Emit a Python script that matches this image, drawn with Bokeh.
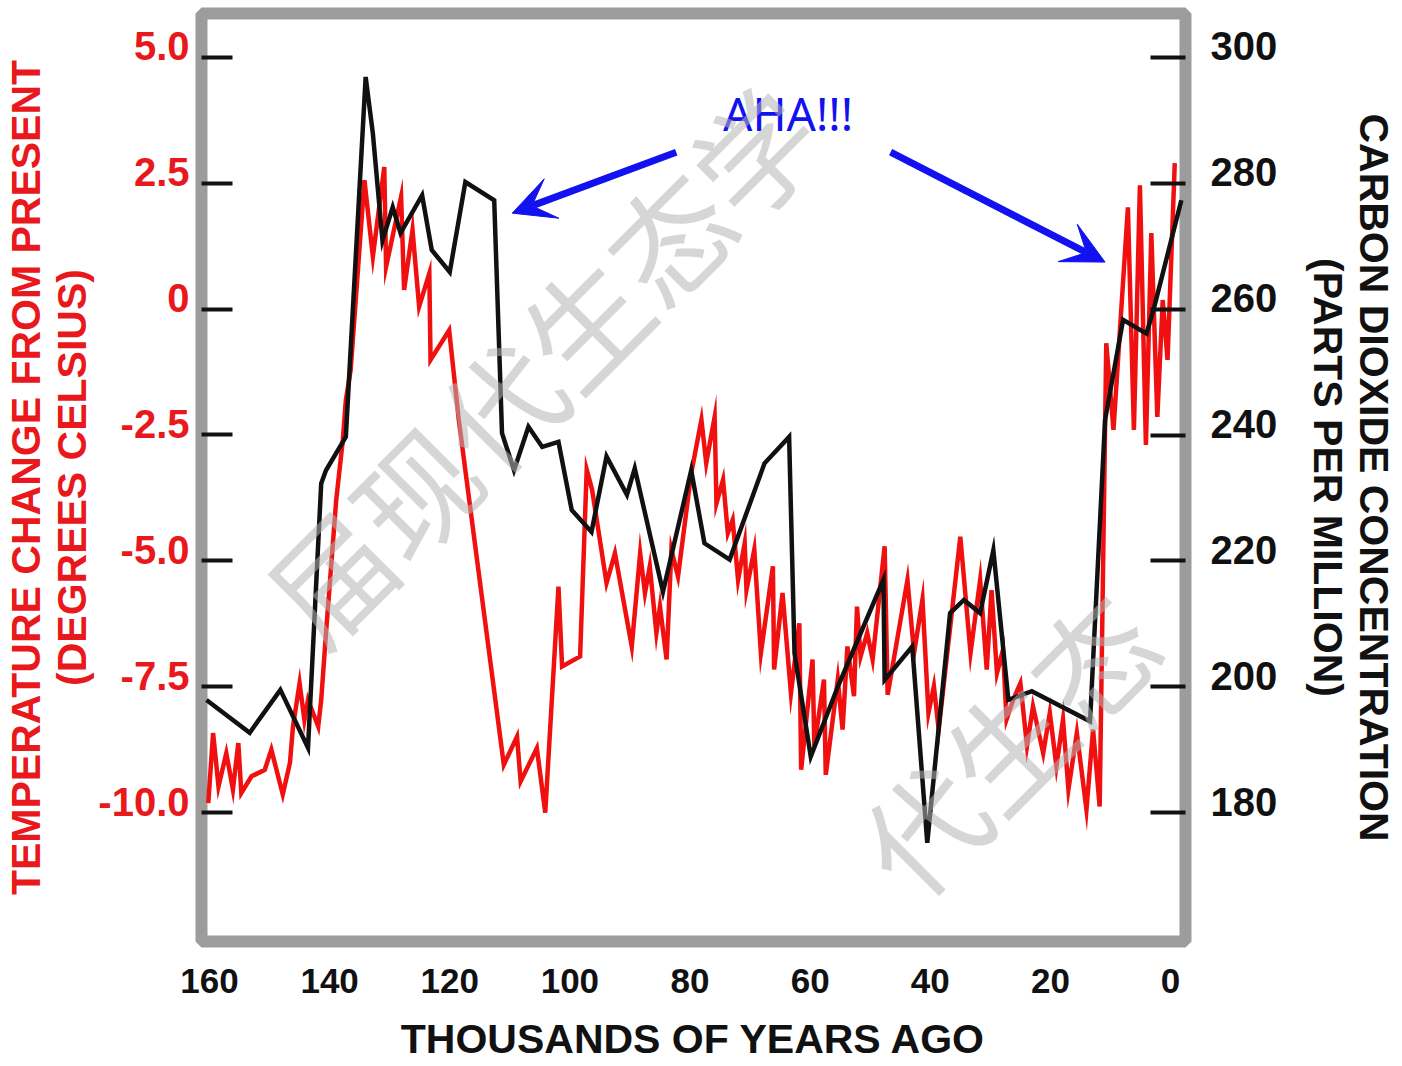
import numpy as np
from bokeh.plotting import figure
from bokeh.models import (Range1d, LinearAxis, FixedTicker, Arrow, VeeHead, Label,
                          CustomJSTickFormatter)
from bokeh.embed import file_html
from bokeh.resources import INLINE

# ---------------- data ----------------
# Temperature change from present (deg C) vs thousands of years ago
temp_kyr = [160.2, 159.4, 158.5, 157.2, 156.1, 155.2, 154.7, 153.0, 150.8, 149.7,
            147.8, 146.6, 146.1, 145.0, 144.2, 143.6, 141.9, 141.4, 140.6, 138.9,
            137.8, 137.3, 136.5, 134.2, 132.8, 130.9, 130.6, 128.1, 127.6, 126.2,
            125.1, 123.4, 123.2, 120.1, 118.5, 111.0, 108.8, 108.2, 105.5, 104.1,
            101.9, 101.3, 98.3, 97.2, 96.3, 93.9, 92.5, 89.7, 88.3, 87.5,
            86.7, 85.6, 85.0, 83.9, 83.1, 82.0, 79.8, 78.1, 77.3, 75.9,
            75.6, 74.5, 73.7, 72.9, 72.0, 70.9, 70.6, 69.3, 68.2, 66.2,
            66.0, 64.6, 63.2, 61.8, 61.5, 59.6, 59.3, 57.7, 57.4, 55.4,
            54.6, 53.8, 52.7, 52.2, 51.6, 50.5, 49.6, 47.6, 47.1, 43.8,
            42.7, 41.3, 40.3, 39.4, 38.6, 35.0, 33.3, 31.7, 30.6, 29.8,
            28.9, 27.9, 27.3, 26.2, 25.0, 23.9, 22.9, 21.2, 20.1, 19.0,
            17.9, 17.0, 15.6, 14.0, 12.9, 11.8, 10.7, 9.5, 7.1, 6.1,
            5.1, 4.1, 3.2, 2.2, 1.3, 0.5, -0.7]
temp_c = [-9.81, -8.42, -9.48, -8.82, -9.54, -8.62, -9.61, -9.28, -9.15, -8.75,
          -9.64, -9.01, -8.29, -7.43, -8.16, -7.76, -8.29, -7.76, -6.43, -3.79,
          -2.60, -1.81, -1.21, 2.56, 1.04, 2.82, 0.84, 2.23, 0.38, 1.57,
          0.05, 0.71, -1.01, -0.42, -2.20, -9.05, -8.49, -9.38, -8.72, -10.0,
          -5.51, -7.10, -6.90, -3.19, -3.59, -5.44, -4.85, -6.70, -4.85, -5.64,
          -5.11, -6.43, -5.91, -6.96, -4.78, -5.31, -3.26, -2.20, -3.06, -2.14,
          -3.86, -3.39, -4.45, -4.19, -5.38, -4.65, -5.58, -4.78, -6.83, -5.11,
          -7.16, -5.64, -7.63, -6.24, -9.15, -6.96, -8.68, -7.36, -9.25, -7.36,
          -8.35, -6.70, -7.69, -5.91, -6.90, -6.43, -6.96, -4.71, -7.66, -5.38,
          -6.83, -5.77, -8.02, -7.49, -8.35, -4.52, -6.83, -5.38, -7.16, -5.58,
          -7.23, -6.77, -8.15, -7.76, -7.43, -8.68, -7.89, -8.82, -8.02, -9.08,
          -8.15, -9.54, -8.42, -9.94, -8.35, -9.88, -0.68, -2.40, 2.02, -2.40,
          2.46, -2.70, 1.51, -2.14, 0.18, -1.01, 2.90]

# Carbon dioxide concentration (ppm) vs thousands of years ago
co2_kyr = [160.5, 153.3, 148.2, 143.6, 141.4, 140.6, 137.3, 134.0, 132.8, 131.2,
           129.5, 128.2, 124.6, 123.0, 120.0, 117.4, 112.6, 111.3, 109.3, 106.9,
           104.6, 101.9, 99.7, 96.4, 93.9, 90.5, 89.2, 84.5, 79.8, 77.6,
           73.4, 67.6, 63.5, 62.6, 59.9, 55.4, 47.8, 47.6, 43.0, 40.5,
           36.7, 34.4, 31.7, 29.5, 27.0, 23.1, 13.4, 10.9, 7.9, 4.0,
           2.7, -1.8]
co2_ppm = [197.9, 192.7, 199.5, 190.3, 232.3, 234.4, 239.7, 296.9, 287.9, 270.9,
           276.2, 272.1, 278.1, 269.4, 265.9, 280.2, 277.3, 240.3, 234.4, 241.3,
           238.1, 238.9, 228.1, 224.6, 236.6, 230.5, 234.7, 215.1, 234.4, 222.8,
           220.2, 235.5, 239.7, 205.3, 188.9, 200.0, 217.0, 201.1, 206.4, 175.2,
           211.7, 213.8, 211.7, 221.7, 197.9, 199.3, 194.5, 242.4, 258.3, 256.1,
           260.4, 277.3]

x_ticks = [160, 140, 120, 100, 80, 60, 40, 20, 0]
temp_ticks = [5, 2.5, 0, -2.5, -5, -7.5, -10]
temp_tick_labels = ["5.0", "2.5", "0", "-2.5", "-5.0", "-7.5", "-10.0"]
co2_ticks = [300, 280, 260, 240, 220, 200, 180]

x_title = "THOUSANDS OF YEARS AGO"
temp_title = "TEMPERATURE CHANGE FROM PRESENT\n(DEGREES CELSIUS)"
co2_title = "CARBON DIOXIDE CONCENTRATION\n(PARTS PER MILLION)"
note_text = "AHA!!!"
watermark_texts = ["届现代生态学", "代生态"]

# ---------------- styles ----------------
RED = "#e8181c"
LINE_RED = "#f01010"
BLUE = "#1212f0"
INK = "#111111"
FONT = "Liberation Sans"

T_RANGE = (-12.56, 5.87)
C_RANGE = (159.52, 306.98)
LABEL_LIFT_T = 0.22          # tick labels sit just above their tick marks
LABEL_LIFT_C = LABEL_LIFT_T * 8

p = figure(width=1400, height=1064,
           x_range=Range1d(161.33, -2.49), y_range=Range1d(*T_RANGE),
           output_backend="svg", toolbar_location=None,
           min_border_left=199, min_border_right=215,
           min_border_top=13, min_border_bottom=122)
p.extra_y_ranges = {
    "co2": Range1d(*C_RANGE),
    "temp_lbl": Range1d(T_RANGE[0] - LABEL_LIFT_T, T_RANGE[1] - LABEL_LIFT_T),
    "co2_lbl": Range1d(C_RANGE[0] - LABEL_LIFT_C, C_RANGE[1] - LABEL_LIFT_C),
}
p.grid.visible = False
p.outline_line_color = "#9c9c9c"
p.outline_line_width = 12
p.background_fill_color = "white"
p.border_fill_color = "white"

blank = CustomJSTickFormatter(code="return ''")

# bottom axis
xa = p.xaxis[0]
xa.ticker = FixedTicker(ticks=x_ticks)
xa.axis_line_color = None
xa.major_tick_line_color = None
xa.minor_tick_line_color = None
xa.major_tick_in = 0
xa.major_tick_out = 0
xa.major_label_text_font = FONT
xa.major_label_text_font_style = "bold"
xa.major_label_text_font_size = "35px"
xa.major_label_text_color = INK
xa.major_label_standoff = 27
xa.axis_label = x_title
xa.axis_label_text_font = FONT
xa.axis_label_text_font_style = "bold"
xa.axis_label_text_font_size = "41px"
xa.axis_label_text_color = INK
xa.axis_label_standoff = 20


def tick_only(axis, tick_in):
    axis.formatter = blank
    axis.axis_line_color = None
    axis.minor_tick_line_color = None
    axis.major_tick_line_color = INK
    axis.major_tick_line_width = 4
    axis.major_tick_in = tick_in
    axis.major_tick_out = 0
    axis.major_label_standoff = 0


def label_only(axis, color, standoff, title, title_standoff):
    axis.axis_line_color = None
    axis.minor_tick_line_color = None
    axis.major_tick_line_color = None
    axis.major_tick_in = 0
    axis.major_tick_out = 0
    axis.major_label_text_font = FONT
    axis.major_label_text_font_style = "bold"
    axis.major_label_text_font_size = "40px"
    axis.major_label_text_color = color
    axis.major_label_standoff = standoff
    axis.axis_label = title
    axis.axis_label_text_font = FONT
    axis.axis_label_text_font_style = "bold"
    axis.axis_label_text_font_size = "41px"
    axis.axis_label_text_color = color
    axis.axis_label_text_line_height = 1.0
    axis.axis_label_standoff = title_standoff


# left: tick marks (temperature scale)
ya = p.yaxis[0]
ya.ticker = FixedTicker(ticks=temp_ticks)
tick_only(ya, 31)

# left: tick labels + title
overrides = {}
for v, s in zip(temp_ticks, temp_tick_labels):
    overrides[int(v) if float(v).is_integer() else v] = s
yl = LinearAxis(y_range_name="temp_lbl", ticker=FixedTicker(ticks=temp_ticks),
                major_label_overrides=overrides)
label_only(yl, RED, 12, temp_title, 0)
p.add_layout(yl, "left")

# right: tick marks (CO2 scale)
rt = LinearAxis(y_range_name="co2", ticker=FixedTicker(ticks=co2_ticks))
tick_only(rt, 35)
p.add_layout(rt, "right")

# right: tick labels + title
rl = LinearAxis(y_range_name="co2_lbl", ticker=FixedTicker(ticks=co2_ticks))
label_only(rl, INK, 25, co2_title, 25)
p.add_layout(rl, "right")

# data lines
p.line(temp_kyr, temp_c, line_color=LINE_RED, line_width=4.5, line_join="miter")
p.line(co2_kyr, co2_ppm, y_range_name="co2", line_color=INK,
       line_width=4.5, line_join="miter")

# annotations
for xs, ys, xe, ye in [(82.3, 3.115, 109.6, 1.905), (46.6, 3.115, 10.9, 0.933)]:
    p.add_layout(Arrow(end=VeeHead(size=42, fill_color=BLUE, line_color=BLUE, line_width=1),
                       x_start=xs, y_start=ys, x_end=xe, y_end=ye,
                       line_color=BLUE, line_width=7))
p.add_layout(Label(x=74.5, y=3.90, text=note_text, text_font="Noto Sans",
                   text_font_size="46px", text_color=BLUE,
                   text_align="left", text_baseline="middle"))

# watermark (the parts of it that lie inside the plot frame)
for txt, wx, wy in zip(watermark_texts, [147.3, 48.6], [-6.11, -11.13]):
    p.add_layout(Label(x=wx, y=wy, text=txt, angle=np.pi / 4,
                       text_font="Noto Sans CJK SC", text_font_size="120px",
                       text_color="#b4b4b4", text_alpha=0.55,
                       text_align="left", text_baseline="middle"))

open("out.html", "w").write(file_html(p, INLINE, "Vostok CO2 and temperature"))
